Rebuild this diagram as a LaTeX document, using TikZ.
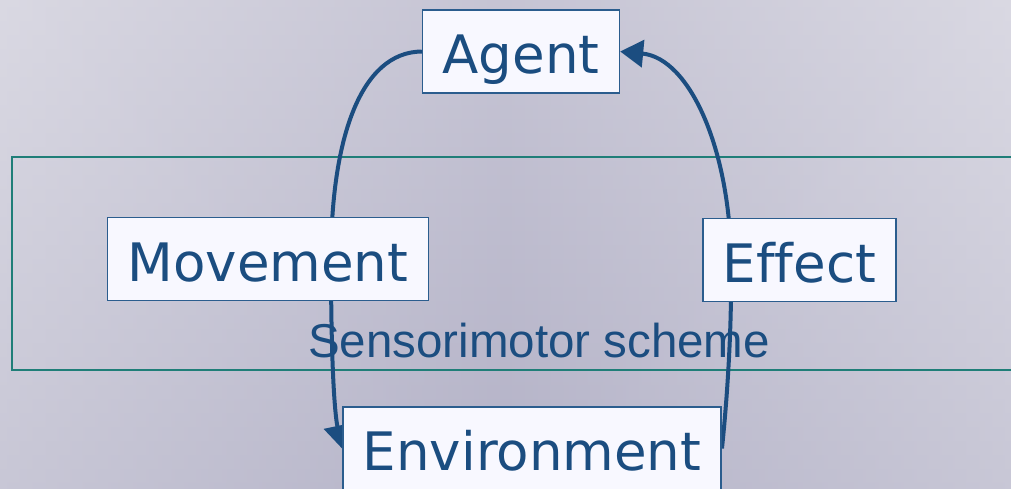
\documentclass[tikz,border=0pt]{standalone}
\usepackage{fontspec}
\usetikzlibrary{arrows.meta}
\newfontfamily\boxfont[Ligatures={NoCommon}]{DejaVu Sans}
\newfontfamily\schemefont{Liberation Sans}
\definecolor{ink}{HTML}{1B4D80}
\definecolor{boxedge}{HTML}{2B5D8E}
\definecolor{boxfill}{HTML}{F8F8FF}
\definecolor{frameteal}{HTML}{1F7E78}
\definecolor{bgtop}{HTML}{D9D8E2}
\definecolor{bgbottom}{HTML}{B6B5C9}
\definecolor{bgmid}{HTML}{B3B1C7}
\definecolor{bgedge}{HTML}{DAD9E3}
\pgfdeclarelayer{back}
\pgfdeclarelayer{links}
\pgfsetlayers{back,links,main}
\tikzset{
  stage/.style={draw=boxedge, line width=1.5pt, fill=boxfill, text=ink,
    inner xsep=20pt, inner ysep=0pt, minimum height=83pt,
    text height=44pt, text depth=0pt,
    font=\boxfont\fontsize{53}{60}\selectfont},
  link/.style={draw=ink, line width=4pt,
    -{Triangle[length=23pt,width=27pt]}},
  schemeframe/.style={draw=frameteal, line width=2pt},
}
\begin{document}
\begin{tikzpicture}[x=1pt,y=-1pt]
\useasboundingbox (0,0) rectangle (1011,489);

% the four stages of the loop
\node[stage] (agent) at (521,51.5) {Agent};
\node[stage] (move)  at (268,259)  {Movement};
\node[stage] (effect) at (799.5,260) {Effect};
\node[stage] (env)   at (532,448.5) {Environment};

\begin{pgfonlayer}{back}
  % soft lavender backdrop: light at the top, darker towards the middle
  \shade[top color=bgtop, bottom color=bgbottom] (0,0) rectangle (1011,489);
  \shade[left color=bgedge, right color=bgedge, middle color=bgmid, opacity=0.5]
    (0,0) rectangle (1011,489);
  % frame around the sensorimotor part
  \draw[schemeframe] (12,157) rectangle (1020,370);
  \node[anchor=base, text=ink, inner sep=0pt,
        font=\schemefont\fontsize{47.5}{55}\selectfont]
    (scheme) at (539,357) {Sensorimotor scheme};
\end{pgfonlayer}

\begin{pgfonlayer}{links}
  % agent acts through a movement on the environment
  \draw[link] (agent.west) .. controls (360,52) and (331,140) .. (331,260)
    .. controls (331,370) and (335,415) .. (env.west);
  % the environment reports an effect back to the agent
  \draw[link] (env.east) .. controls (727,400) and (732,330) .. (731,260)
    .. controls (730,150) and (690,58) .. (agent.east);
\end{pgfonlayer}
\end{tikzpicture}
\end{document}
